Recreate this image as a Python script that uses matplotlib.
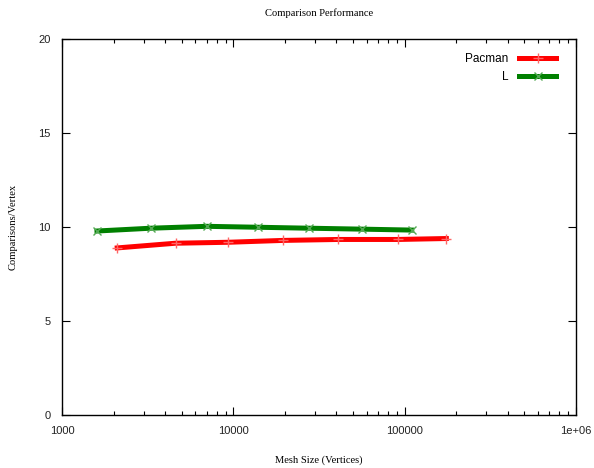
import matplotlib
matplotlib.use("Agg")
import matplotlib.pyplot as plt
from matplotlib.ticker import LogLocator, FixedLocator, NullFormatter

# data
pacman_x = [2100, 4600, 9300, 19600, 41000, 91000, 175000]
pacman_y = [8.9, 9.15, 9.2, 9.3, 9.35, 9.35, 9.4]

l_x = [1600, 3300, 7000, 14000, 27500, 56000, 110000]
l_y = [9.8, 9.95, 10.05, 10.0, 9.95, 9.9, 9.85]

x_ticks = [1000, 10000, 100000, 1000000]
x_labels = ["1000", "10000", "100000", "1e+06"]
y_ticks = [0, 5, 10, 15, 20]

SANS = "Liberation Sans"
SERIF = "Liberation Serif"

fig = plt.figure(figsize=(5.94, 4.68), dpi=100)
ax = fig.add_axes([0.1044, 0.1132, 0.8653, 0.8024])

ax.plot(pacman_x, pacman_y, color="#ff0000", linewidth=3.6, label="Pacman",
        marker="+", markersize=7, markeredgewidth=1.0, markeredgecolor="#ff6666")
ax.plot(l_x, l_y, color="#008000", linewidth=3.6, label="L",
        marker="x", markersize=6, markeredgewidth=1.0, markeredgecolor="#55aa55")

ax.set_xscale("log")
ax.set_xlim(1000, 1000000)
ax.set_ylim(0, 20)

ax.xaxis.set_major_locator(FixedLocator(x_ticks))
ax.set_xticklabels(x_labels)
ax.xaxis.set_minor_locator(LogLocator(base=10, subs=range(2, 10)))
ax.xaxis.set_minor_formatter(NullFormatter())
ax.set_yticks(y_ticks)

ax.tick_params(which="major", direction="in", length=6, width=0.8,
               top=True, right=True, labelsize=8, pad=8, labelcolor="#222222")
ax.tick_params(which="minor", direction="in", length=3, width=0.8,
               top=True, right=True)
for lab in ax.get_xticklabels() + ax.get_yticklabels():
    lab.set_fontfamily(SANS)
for s in ax.spines.values():
    s.set_linewidth(1.0)

ax.set_title("Comparison Performance", fontsize=7.6, family=SERIF, pad=17)
ax.set_xlabel("Mesh Size (Vertices)", fontsize=7.6, family=SERIF, labelpad=14)
ax.set_ylabel("Comparisons/Vertex", fontsize=7.6, family=SERIF, labelpad=15)

leg = ax.legend(loc="upper right", frameon=False, markerfirst=False,
                handlelength=3.1, handletextpad=0.9, labelspacing=0.45,
                borderaxespad=0, borderpad=0,
                bbox_to_anchor=(0.961, 0.963), prop={"family": SANS, "size": 8.5})

fig.savefig("out.png", dpi=100)
